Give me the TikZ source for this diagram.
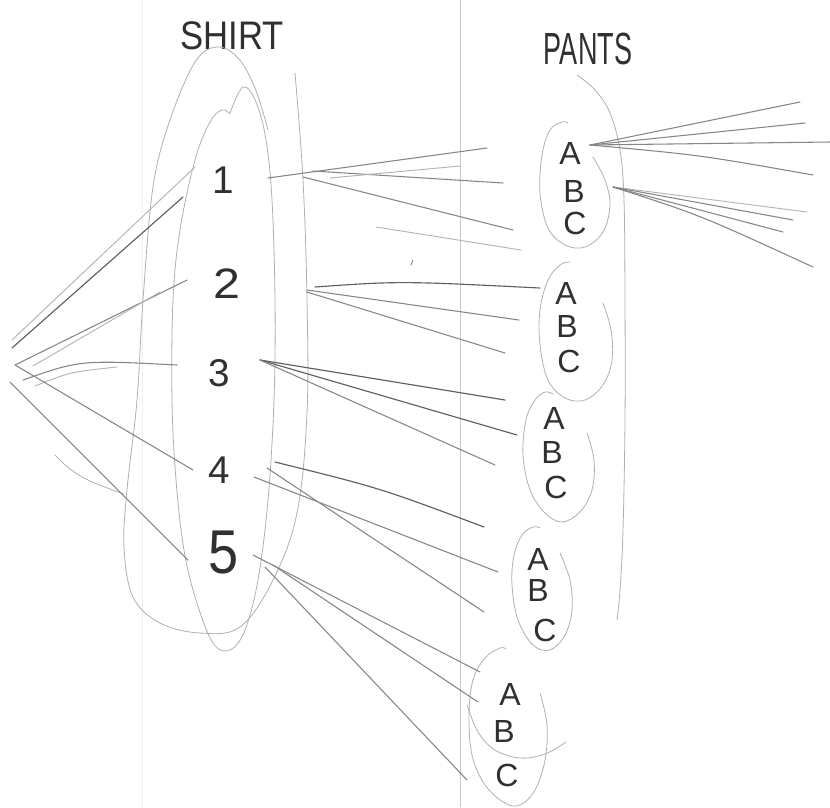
\documentclass[tikz,border=0pt]{standalone}
\usepackage{fontspec}
\setmainfont{Liberation Sans}
\definecolor{ink}{HTML}{303030}
\definecolor{wdark}{HTML}{5E5E5E}
\definecolor{wmid}{HTML}{868686}
\definecolor{wlight}{HTML}{B4B4B4}
\definecolor{loopc}{HTML}{B0B0B0}
\definecolor{rule}{HTML}{C8C8C8}
\definecolor{rulefaint}{HTML}{EFEFEF}
\begin{document}
\begin{tikzpicture}[x=0.75pt,y=-0.75pt,
  num/.style={text=ink, inner sep=0pt, font=\fontsize{29}{29}\selectfont},
  abc/.style={text=ink, inner sep=0pt, font=\fontsize{24}{24}\selectfont},
  heading/.style={text=ink, inner sep=0pt, font=\fontsize{26}{26}\selectfont},
  outline/.style={draw=loopc, line width=0.6pt, line cap=round},
  wire/.style={draw=wmid, line width=0.8pt, line cap=round},
  wiredark/.style={draw=wdark, line width=0.85pt, line cap=round},
  wirelight/.style={draw=wlight, line width=0.7pt, line cap=round}]
\useasboundingbox (0,0) rectangle (830,807);
\fill[white] (0,0) rectangle (830,807);

% ruled paper lines
\draw[rule, line width=0.6pt] (460,0) -- (460,807);
\draw[rulefaint, line width=0.5pt] (142,0) -- (142,807);

% headings
\node[heading, yscale=1.15] (shirt) at (232,36) {SHIRT};
\node[heading, xscale=0.78, yscale=1.3] (pants) at (588,49) {PANTS};

% shirt numbers
\node[num] (n1) at (223,180) {1};
\node[num, xscale=1.25, yscale=1.1] (n2) at (227,284) {2};
\node[num] (n3) at (219,373) {3};
\node[num] (n4) at (219,470) {4};
\node[num, xscale=1.4, yscale=1.6] (n5) at (224,553) {5};

% shirt outlines
\draw[outline] plot[smooth, tension=0.6] coordinates {
  (268,130) (255,88) (238,58) (217,47) (195,62) (170,120) (153,187)
  (143,300) (137,400) (127,490) (124,547) (133,597) (160,623) (200,633)
  (240,627) (273,580) (297,513) (307,413) (307,300) (303,180) (295,73)};
\draw[outline] plot[smooth, tension=0.6] coordinates {
  (230,113) (243,87) (256,102) (266,140) (272,200) (275,300) (274,400)
  (268,500) (258,580) (245,630) (230,650) (213,643) (196,600) (184,550)
  (176,480) (172,400) (173,300) (180,230) (195,160) (210,122) (222,110) (230,114)};
\draw[outline] plot[smooth, tension=0.7] coordinates {
  (55,455) (70,469) (88,480) (110,489) (124,494)};

% pants outer enclosure
\draw[outline] plot[smooth, tension=0.6] coordinates {
  (577,75) (595,90) (610,113) (620,150) (624,200) (625,300)
  (625,420) (623,530) (620,590) (617,620)};

% pants groups
\node[abc] (a1) at (570,153) {A};
\node[abc] (b1) at (574,191) {B};
\node[abc] (c1) at (575,223) {C};
\draw[outline] plot[smooth, tension=0.6] coordinates {
  (593,157) (605,180) (610,205) (603,232) (585,247) (565,245) (548,228)
  (540,193) (542,155) (550,130) (562,122) (568,123)};

\node[abc] (a2) at (566,293) {A};
\node[abc] (b2) at (567,326) {B};
\node[abc] (c2) at (569,361) {C};
\draw[outline] plot[smooth, tension=0.6] coordinates {
  (603,303) (611,330) (612,360) (603,385) (585,400) (565,398) (548,380)
  (540,345) (540,310) (548,280) (560,265) (570,262)};

\node[abc] (a3) at (554,418) {A};
\node[abc] (b3) at (552,452) {B};
\node[abc] (c3) at (556,487) {C};
\draw[outline] plot[smooth, tension=0.6] coordinates {
  (587,433) (594,460) (592,490) (580,512) (562,522) (545,513) (530,490)
  (523,455) (526,420) (535,400) (545,392) (553,394)};

\node[abc] (a4) at (538,559) {A};
\node[abc] (b4) at (538,590) {B};
\node[abc] (c4) at (545,630) {C};
\draw[outline] plot[smooth, tension=0.6] coordinates {
  (560,553) (570,580) (572,610) (565,635) (550,650) (533,645) (518,620)
  (512,585) (514,555) (522,535) (533,527) (540,528)};

\node[abc] (a5) at (510,694) {A};
\node[abc] (b5) at (504,731) {B};
\node[abc] (c5) at (507,775) {C};
\draw[outline] plot[smooth, tension=0.6] coordinates {
  (540,693) (547,725) (545,760) (535,790) (520,805) (505,803) (485,785)
  (472,755) (469,715) (473,680) (485,658) (500,648) (506,649)};
\draw[outline] plot[smooth, tension=0.6] coordinates {
  (467,705) (478,732) (495,750) (520,758) (545,754) (566,742)};

% left fan into the numbers
\coordinate (q1) at (12,340);
\coordinate (q2) at (12,348);
\coordinate (q3) at (15,365);
\coordinate (q4) at (10,382);
\coordinate (q5) at (23,380);
\coordinate (q6) at (33,366);
\coordinate (q7) at (35,386);
\coordinate (t1a) at (195,167);
\coordinate (t1b) at (183,197);
\coordinate (t2a) at (187,280);
\coordinate (t2b) at (160,292);
\coordinate (t3a) at (177,365);
\coordinate (t3b) at (117,367);
\coordinate (t4) at (193,470);
\coordinate (t5) at (188,560);
\draw[wirelight] (q1) -- (t1a);
\draw[wiredark] (q2) -- (t1b);
\draw[wire] (q3) -- (t2a);
\draw[wirelight] (q6) -- (t2b);
\draw[wire] (q5) .. controls (80,360) .. (t3a);
\draw[wirelight] (q7) .. controls (70,372) .. (t3b);
\draw[wire] (q3) -- (t4);
\draw[wire] (q4) -- (t5);

% numbers out to the pants groups
\coordinate (s1a) at (268,178);
\coordinate (s1b) at (313,171);
\coordinate (s1c) at (303,177);
\coordinate (e1a) at (487,148);
\coordinate (e1b) at (503,183);
\coordinate (e1c) at (513,230);
\draw[wire] (s1a) -- (e1a);
\draw[wire] (s1b) -- (e1b);
\draw[wire] (s1c) -- (e1c);
\coordinate (g1a) at (330,178);
\coordinate (h1a) at (460,166);
\coordinate (g1b) at (376,227);
\coordinate (h1b) at (521,250);
\draw[wirelight] (g1a) -- (h1a);
\draw[wirelight] (g1b) -- (h1b);

\coordinate (s2a) at (315,287);
\coordinate (s2b) at (307,290);
\coordinate (s2c) at (307,292);
\coordinate (e2a) at (540,288);
\coordinate (e2b) at (519,320);
\coordinate (e2c) at (505,353);
\draw[wiredark] (s2a) .. controls (400,281) .. (e2a);
\draw[wire] (s2b) -- (e2b);
\draw[wire] (s2c) -- (e2c);

\coordinate (s3) at (260,360);
\coordinate (e3a) at (505,400);
\coordinate (e3b) at (517,435);
\coordinate (e3c) at (495,465);
\draw[wiredark] (s3) -- (e3a);
\draw[wiredark] (s3) -- (e3b);
\draw[wire] (s3) -- (e3c);

\coordinate (s4a) at (275,462);
\coordinate (s4b) at (254,477);
\coordinate (s4c) at (267,468);
\coordinate (e4a) at (484,527);
\coordinate (e4b) at (498,572);
\coordinate (e4c) at (484,612);
\draw[wiredark] (s4a) .. controls (380,488) .. (e4a);
\draw[wire] (s4b) -- (e4b);
\draw[wire] (s4c) -- (e4c);

\coordinate (s5a) at (253,555);
\coordinate (s5b) at (273,565);
\coordinate (s5c) at (265,567);
\coordinate (e5a) at (480,672);
\coordinate (e5b) at (478,702);
\coordinate (e5c) at (467,780);
\draw[wire] (s5a) -- (e5a);
\draw[wire] (s5b) -- (e5b);
\draw[wire] (s5c) -- (e5c);

% fans leaving the first pants group
\coordinate (pa) at (590,145);
\coordinate (pb) at (613,187);
\coordinate (ra1) at (800,102);
\coordinate (ra2) at (805,123);
\coordinate (ra3) at (830,142);
\coordinate (ra4) at (813,175);
\coordinate (rb1) at (807,212);
\coordinate (rb2) at (793,220);
\coordinate (rb3) at (783,232);
\coordinate (rb4) at (813,267);
\draw[wire] (pa) -- (ra1);
\draw[wire] (pa) -- (ra2);
\draw[wire] (pa) -- (ra3);
\draw[wire] (pa) .. controls (700,155) .. (ra4);
\draw[wirelight] (pb) -- (rb1);
\draw[wire] (pb) -- (rb2);
\draw[wire] (pb) -- (rb3);
\draw[wire] (pb) .. controls (700,215) .. (rb4);

% stray pencil mark
\draw[wmid, line width=0.7pt, line cap=round] (411,265) -- (413,260);
\end{tikzpicture}
\end{document}
